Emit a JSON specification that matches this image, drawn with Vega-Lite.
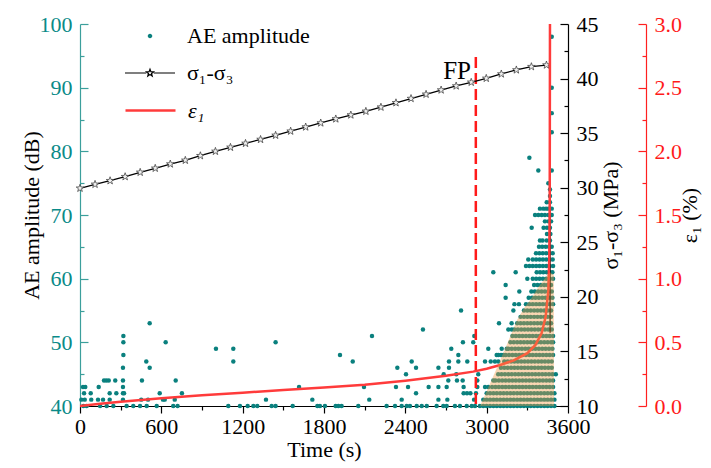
{
"$schema": "https://vega.github.io/schema/vega-lite/v6.json",
"width": 488, "height": 382,
"autosize": "none",
"padding": {"left": 80, "top": 24, "right": 143, "bottom": 62},
"config": {
 "font": "Liberation Serif",
 "view": {"stroke": null},
 "axis": {"labelFont": "Liberation Serif", "titleFont": "Liberation Serif", "labelFontSize": 22, "titleFontSize": 22, "titleFontWeight": "normal", "grid": false, "labelOverlap": false, "labelFlush": false, "domainWidth": 1.2, "tickWidth": 1.2},
 "legend": {"labelFont": "Liberation Serif", "labelFontSize": 22, "orient": "top-left", "padding": 0, "layout": {"top-left": {"direction": "vertical", "margin": 0}}}
},
"datasets": {
 "ae": [
{"t":25,"a":40},{"t":49,"a":40},{"t":148,"a":40},{"t":197,"a":40},{"t":246,"a":40},{"t":344,"a":40},{"t":393,"a":40},{"t":443,"a":40},{"t":492,"a":40},{"t":566,"a":40},{"t":688,"a":40},{"t":720,"a":40},{"t":1094,"a":40},{"t":1180,"a":40},{"t":1237,"a":40},{"t":1279,"a":40},{"t":1308,"a":40},{"t":1414,"a":40},{"t":1443,"a":40},{"t":1569,"a":40},{"t":1751,"a":40},{"t":1770,"a":40},{"t":1807,"a":40},{"t":1886,"a":40},{"t":1906,"a":40},{"t":1930,"a":40},{"t":2053,"a":40},{"t":2262,"a":40},{"t":2324,"a":40},{"t":2373,"a":40},{"t":2410,"a":40},{"t":2434,"a":40},{"t":2484,"a":40},{"t":2521,"a":40},{"t":2558,"a":40},{"t":2631,"a":40},{"t":2680,"a":40},{"t":2705,"a":40},{"t":2766,"a":40},{"t":2803,"a":40},{"t":2853,"a":40},{"t":2890,"a":40},{"t":2914,"a":40},
{"t":2950,"a":40},{"t":2975,"a":40},{"t":3000,"a":40},{"t":3025,"a":40},{"t":3050,"a":40},{"t":3075,"a":40},{"t":3100,"a":40},{"t":3125,"a":40},{"t":3150,"a":40},{"t":3175,"a":40},{"t":3200,"a":40},{"t":3225,"a":40},{"t":3250,"a":40},{"t":3275,"a":40},{"t":3300,"a":40},{"t":3325,"a":40},{"t":3350,"a":40},{"t":3375,"a":40},{"t":3400,"a":40},{"t":3425,"a":40},{"t":3450,"a":40},{"t":3475,"a":40},{"t":3500,"a":40},
{"t":10,"a":41},{"t":35,"a":41},{"t":83,"a":41},{"t":133,"a":41},{"t":170,"a":41},{"t":219,"a":41},{"t":317,"a":41},{"t":452,"a":41},{"t":502,"a":41},{"t":612,"a":41},{"t":625,"a":41},{"t":699,"a":41},{"t":1372,"a":41},{"t":1714,"a":41},{"t":2134,"a":41},{"t":2373,"a":41},{"t":2644,"a":41},{"t":2710,"a":41},{"t":2907,"a":41},
{"t":2975,"a":41},{"t":3000,"a":41},{"t":3025,"a":41},{"t":3050,"a":41},{"t":3075,"a":41},{"t":3100,"a":41},{"t":3125,"a":41},{"t":3150,"a":41},{"t":3175,"a":41},{"t":3200,"a":41},{"t":3225,"a":41},{"t":3250,"a":41},{"t":3275,"a":41},{"t":3300,"a":41},{"t":3325,"a":41},{"t":3350,"a":41},{"t":3375,"a":41},{"t":3400,"a":41},{"t":3425,"a":41},{"t":3450,"a":41},{"t":3475,"a":41},{"t":3500,"a":41},
{"t":30,"a":42},{"t":79,"a":42},{"t":219,"a":42},{"t":268,"a":42},{"t":317,"a":42},{"t":325,"a":42},{"t":588,"a":42},{"t":752,"a":42},{"t":2479,"a":42},{"t":2830,"a":42},{"t":2855,"a":42},{"t":2880,"a":42},{"t":2921,"a":42},
{"t":3000,"a":42},{"t":3025,"a":42},{"t":3050,"a":42},{"t":3075,"a":42},{"t":3100,"a":42},{"t":3125,"a":42},{"t":3150,"a":42},{"t":3175,"a":42},{"t":3200,"a":42},{"t":3225,"a":42},{"t":3250,"a":42},{"t":3275,"a":42},{"t":3300,"a":42},{"t":3325,"a":42},{"t":3350,"a":42},{"t":3375,"a":42},{"t":3400,"a":42},{"t":3425,"a":42},{"t":3450,"a":42},{"t":3475,"a":42},{"t":3500,"a":42},
{"t":22,"a":43},{"t":39,"a":43},{"t":138,"a":43},{"t":317,"a":43},{"t":1616,"a":43},{"t":2095,"a":43},{"t":2331,"a":43},{"t":2420,"a":43},{"t":2572,"a":43},{"t":2644,"a":43},{"t":2705,"a":43},{"t":2830,"a":43},{"t":2931,"a":43},{"t":2988,"a":43},{"t":3012,"a":43},
{"t":3040,"a":43},{"t":3065,"a":43},{"t":3090,"a":43},{"t":3115,"a":43},{"t":3140,"a":43},{"t":3165,"a":43},{"t":3190,"a":43},{"t":3215,"a":43},{"t":3240,"a":43},{"t":3265,"a":43},{"t":3290,"a":43},{"t":3315,"a":43},{"t":3340,"a":43},{"t":3365,"a":43},{"t":3390,"a":43},{"t":3415,"a":43},{"t":3440,"a":43},{"t":3465,"a":43},{"t":3490,"a":43},
{"t":177,"a":44},{"t":194,"a":44},{"t":212,"a":44},{"t":260,"a":44},{"t":317,"a":44},{"t":457,"a":44},{"t":706,"a":44},{"t":2717,"a":44},{"t":2781,"a":44},{"t":2823,"a":44},{"t":2931,"a":44},{"t":3049,"a":44},
{"t":3065,"a":44},{"t":3090,"a":44},{"t":3115,"a":44},{"t":3140,"a":44},{"t":3165,"a":44},{"t":3190,"a":44},{"t":3215,"a":44},{"t":3240,"a":44},{"t":3265,"a":44},{"t":3290,"a":44},{"t":3315,"a":44},{"t":3340,"a":44},{"t":3365,"a":44},{"t":3390,"a":44},{"t":3415,"a":44},{"t":3440,"a":44},{"t":3465,"a":44},{"t":3490,"a":44},
{"t":2405,"a":45},{"t":2683,"a":45},{"t":2776,"a":45},{"t":2938,"a":45},
{"t":3085,"a":45},{"t":3110,"a":45},{"t":3135,"a":45},{"t":3160,"a":45},{"t":3185,"a":45},{"t":3210,"a":45},{"t":3235,"a":45},{"t":3260,"a":45},{"t":3285,"a":45},{"t":3310,"a":45},{"t":3335,"a":45},{"t":3360,"a":45},{"t":3385,"a":45},{"t":3410,"a":45},{"t":3435,"a":45},{"t":3460,"a":45},{"t":3485,"a":45},{"t":3510,"a":45},
{"t":317,"a":46},{"t":514,"a":46},{"t":2341,"a":46},{"t":2479,"a":46},{"t":2644,"a":46},{"t":2722,"a":46},
{"t":3105,"a":46},{"t":3130,"a":46},{"t":3155,"a":46},{"t":3180,"a":46},{"t":3205,"a":46},{"t":3230,"a":46},{"t":3255,"a":46},{"t":3280,"a":46},{"t":3305,"a":46},{"t":3330,"a":46},{"t":3355,"a":46},{"t":3380,"a":46},{"t":3405,"a":46},{"t":3430,"a":46},{"t":3455,"a":46},{"t":3480,"a":46},
{"t":489,"a":47},{"t":1131,"a":47},{"t":2012,"a":47},{"t":2447,"a":47},{"t":2722,"a":47},{"t":2791,"a":47},{"t":2857,"a":47},{"t":2988,"a":47},{"t":3030,"a":47},{"t":3061,"a":47},{"t":3086,"a":47},
{"t":3130,"a":47},{"t":3155,"a":47},{"t":3180,"a":47},{"t":3205,"a":47},{"t":3230,"a":47},{"t":3255,"a":47},{"t":3280,"a":47},{"t":3305,"a":47},{"t":3330,"a":47},{"t":3355,"a":47},{"t":3380,"a":47},{"t":3405,"a":47},{"t":3430,"a":47},{"t":3455,"a":47},{"t":3480,"a":47},
{"t":320,"a":48},{"t":1918,"a":48},{"t":2791,"a":48},{"t":3074,"a":48},{"t":3086,"a":48},{"t":3106,"a":48},{"t":3123,"a":48},
{"t":3140,"a":48},{"t":3165,"a":48},{"t":3190,"a":48},{"t":3215,"a":48},{"t":3240,"a":48},{"t":3265,"a":48},{"t":3290,"a":48},{"t":3315,"a":48},{"t":3340,"a":48},{"t":3365,"a":48},{"t":3390,"a":48},{"t":3415,"a":48},{"t":3440,"a":48},{"t":3465,"a":48},{"t":3490,"a":48},
{"t":1003,"a":49},{"t":1131,"a":49},{"t":2739,"a":49},{"t":3012,"a":49},{"t":3111,"a":49},{"t":3148,"a":49},
{"t":3160,"a":49},{"t":3185,"a":49},{"t":3210,"a":49},{"t":3235,"a":49},{"t":3260,"a":49},{"t":3285,"a":49},{"t":3310,"a":49},{"t":3335,"a":49},{"t":3360,"a":49},{"t":3385,"a":49},{"t":3410,"a":49},{"t":3435,"a":49},{"t":3460,"a":49},{"t":3485,"a":49},
{"t":320,"a":50},{"t":632,"a":50},{"t":1443,"a":50},{"t":2825,"a":50},{"t":2901,"a":50},
{"t":3175,"a":50},{"t":3200,"a":50},{"t":3225,"a":50},{"t":3250,"a":50},{"t":3275,"a":50},{"t":3300,"a":50},{"t":3325,"a":50},{"t":3350,"a":50},{"t":3375,"a":50},{"t":3400,"a":50},{"t":3425,"a":50},{"t":3450,"a":50},{"t":3475,"a":50},{"t":3490,"a":50},
{"t":320,"a":51},{"t":2154,"a":51},{"t":2909,"a":51},
{"t":3190,"a":51},{"t":3215,"a":51},{"t":3240,"a":51},{"t":3265,"a":51},{"t":3290,"a":51},{"t":3315,"a":51},{"t":3340,"a":51},{"t":3365,"a":51},{"t":3390,"a":51},{"t":3415,"a":51},{"t":3440,"a":51},{"t":3465,"a":51},{"t":3490,"a":51},
{"t":2530,"a":52},{"t":3160,"a":52},{"t":3185,"a":52},
{"t":3205,"a":52},{"t":3230,"a":52},{"t":3255,"a":52},{"t":3280,"a":52},{"t":3305,"a":52},{"t":3330,"a":52},{"t":3355,"a":52},{"t":3380,"a":52},{"t":3405,"a":52},{"t":3430,"a":52},{"t":3455,"a":52},{"t":3480,"a":52},
{"t":514,"a":53},{"t":3091,"a":53},{"t":3184,"a":53},
{"t":3225,"a":53},{"t":3250,"a":53},{"t":3275,"a":53},{"t":3300,"a":53},{"t":3325,"a":53},{"t":3350,"a":53},{"t":3375,"a":53},{"t":3400,"a":53},{"t":3425,"a":53},{"t":3450,"a":53},{"t":3475,"a":53},
{"t":3250,"a":54},{"t":3275,"a":54},{"t":3300,"a":54},{"t":3325,"a":54},{"t":3350,"a":54},{"t":3375,"a":54},{"t":3400,"a":54},{"t":3425,"a":54},{"t":3450,"a":54},{"t":3475,"a":54},
{"t":2811,"a":55},{"t":3197,"a":55},
{"t":3275,"a":55},{"t":3300,"a":55},{"t":3325,"a":55},{"t":3350,"a":55},{"t":3375,"a":55},{"t":3400,"a":55},{"t":3425,"a":55},{"t":3450,"a":55},{"t":3475,"a":55},
{"t":3205,"a":56},{"t":3238,"a":56},
{"t":3290,"a":56},{"t":3315,"a":56},{"t":3340,"a":56},{"t":3365,"a":56},{"t":3390,"a":56},{"t":3415,"a":56},{"t":3440,"a":56},{"t":3465,"a":56},{"t":3490,"a":56},
{"t":3140,"a":57},
{"t":3310,"a":57},{"t":3335,"a":57},{"t":3360,"a":57},{"t":3385,"a":57},{"t":3410,"a":57},{"t":3435,"a":57},{"t":3460,"a":57},{"t":3485,"a":57},
{"t":3241,"a":58},
{"t":3330,"a":58},{"t":3355,"a":58},{"t":3380,"a":58},{"t":3405,"a":58},{"t":3430,"a":58},{"t":3455,"a":58},{"t":3480,"a":58},
{"t":3140,"a":59},
{"t":3350,"a":59},{"t":3375,"a":59},{"t":3400,"a":59},{"t":3425,"a":59},{"t":3450,"a":59},{"t":3475,"a":59},
{"t":3300,"a":60},
{"t":3340,"a":60},{"t":3365,"a":60},{"t":3390,"a":60},{"t":3415,"a":60},{"t":3440,"a":60},{"t":3465,"a":60},{"t":3490,"a":60},
{"t":3049,"a":61},{"t":3214,"a":61},{"t":3369,"a":61},{"t":3394,"a":61},{"t":3418,"a":61},{"t":3443,"a":61},{"t":3467,"a":61},{"t":3485,"a":61},
{"t":3290,"a":62},{"t":3315,"a":62},{"t":3340,"a":62},{"t":3365,"a":62},{"t":3390,"a":62},{"t":3415,"a":62},{"t":3440,"a":62},{"t":3465,"a":62},{"t":3490,"a":62},
{"t":3307,"a":63},{"t":3340,"a":63},{"t":3365,"a":63},{"t":3390,"a":63},{"t":3415,"a":63},{"t":3440,"a":63},{"t":3465,"a":63},{"t":3487,"a":63},
{"t":3364,"a":64},{"t":3389,"a":64},{"t":3414,"a":64},{"t":3439,"a":64},{"t":3464,"a":64},{"t":3487,"a":64},
{"t":3386,"a":65},{"t":3410,"a":65},{"t":3436,"a":65},{"t":3460,"a":65},{"t":3480,"a":65},
{"t":3393,"a":66},{"t":3413,"a":66},{"t":3443,"a":66},{"t":3467,"a":66},
{"t":3445,"a":67},{"t":3470,"a":67},
{"t":3332,"a":68},{"t":3420,"a":68},{"t":3445,"a":68},{"t":3467,"a":68},
{"t":3430,"a":69},{"t":3455,"a":69},{"t":3475,"a":69},
{"t":3357,"a":70},{"t":3381,"a":70},{"t":3406,"a":70},{"t":3430,"a":70},{"t":3455,"a":70},{"t":3480,"a":70},
{"t":3393,"a":71},{"t":3418,"a":71},{"t":3438,"a":71},{"t":3455,"a":71},{"t":3480,"a":71},
{"t":3443,"a":72},{"t":3467,"a":72},
{"t":3467,"a":73},{"t":3467,"a":74},{"t":3455,"a":75},
{"t":3381,"a":77},{"t":3480,"a":77},{"t":3315,"a":79},
{"t":3480,"a":83},{"t":3480,"a":86},{"t":3480,"a":90},{"t":3480,"a":98}
 ],
 "stress": [
{"t":0,"s":29.95},{"t":111,"s":30.31},{"t":222,"s":30.64},{"t":333,"s":31.01},{"t":444,"s":31.41},{"t":555,"s":31.78},{"t":666,"s":32.17},{"t":777,"s":32.51},{"t":888,"s":32.93},{"t":999,"s":33.33},{"t":1110,"s":33.70},{"t":1221,"s":34.06},{"t":1332,"s":34.42},{"t":1443,"s":34.80},{"t":1554,"s":35.18},{"t":1665,"s":35.56},{"t":1776,"s":35.93},{"t":1887,"s":36.30},{"t":1998,"s":36.66},{"t":2109,"s":37.00},{"t":2220,"s":37.38},{"t":2331,"s":37.78},{"t":2442,"s":38.17},{"t":2553,"s":38.56},{"t":2664,"s":38.95},{"t":2775,"s":39.32},{"t":2886,"s":39.66},{"t":2997,"s":40.02},{"t":3108,"s":40.42},{"t":3219,"s":40.79},{"t":3330,"s":41.09},{"t":3441,"s":41.24},{"t":3466,"s":41.30},{"t":3468,"s":16.7}
 ],
 "strain": [
{"t":0,"e":0},{"t":150,"e":0.018},{"t":300,"e":0.034},{"t":600,"e":0.06},{"t":900,"e":0.085},{"t":1200,"e":0.105},{"t":1500,"e":0.125},{"t":1800,"e":0.145},{"t":2100,"e":0.167},{"t":2400,"e":0.199},{"t":2700,"e":0.238},{"t":2900,"e":0.27},{"t":3000,"e":0.292},{"t":3100,"e":0.322},{"t":3200,"e":0.358},{"t":3300,"e":0.415},{"t":3360,"e":0.48},{"t":3405,"e":0.57},{"t":3435,"e":0.7},{"t":3455,"e":0.91},{"t":3462,"e":1.17},{"t":3465,"e":1.6},{"t":3466,"e":2.2},{"t":3467,"e":3.0}
 ],
 "orange": [
{"t":2951,"a":40},{"t":3000,"a":42.3},{"t":3084,"a":46.4},{"t":3150,"a":49.7},{"t":3224,"a":53.5},{"t":3280,"a":55.5},{"t":3320,"a":56.6},{"t":3380,"a":58.6},{"t":3438,"a":60.3},{"t":3467,"a":61.0},{"t":3495,"a":60.6},{"t":3497,"a":40}
 ]
},
"layer": [
 {
  "data": {"name": "ae"},
  "mark": {"type": "point", "filled": true, "size": 20, "opacity": 1},
  "encoding": {
   "x": {"field": "t", "type": "quantitative", "scale": {"domain": [0, 3600], "nice": false},
     "axis": {"values": [0,300,600,900,1200,1500,1800,2100,2400,2700,3000,3300,3600], "format": "d",
       "labelExpr": "datum.value % 600 === 0 ? datum.label : ''",
       "tickSize": {"condition": {"test": "datum.value % 600 === 0", "value": 7}, "value": 4},
       "title": "Time (s)", "domainColor": "black", "tickColor": "black", "labelColor": "black", "labelPadding": 3, "titlePadding": 2}},
   "y": {"field": "a", "type": "quantitative", "scale": {"domain": [40, 100], "nice": false, "zero": false},
     "axis": {"orient": "left", "values": [40,45,50,55,60,65,70,75,80,85,90,95,100],
       "labelExpr": "datum.value % 10 === 0 ? datum.label : ''",
       "tickSize": {"condition": {"test": "datum.value % 10 === 0", "value": -8}, "value": -4},
       "title": "AE amplitude (dB)", "titleColor": "black", "domainColor": "#3c9f9c", "tickColor": "#3c9f9c", "labelColor": "#0a8a88", "labelPadding": 16, "titlePadding": -4}},
   "color": {"datum": "AE amplitude", "scale": {"range": ["#0a807e"]},
     "legend": {"title": null, "symbolType": "M-0.09,0A0.09,0.09 0 1,1 0.09,0A0.09,0.09 0 1,1 -0.09,0Z", "symbolSize": 2500, "offset": -14, "symbolOffset": 58, "labelOffset": 11, "padding": 0}}
  }
 },
 {
  "data": {"values": [{"t": 2920, "lo": 40.3, "hi": 94.9}]},
  "mark": {"type": "rule", "color": "#ff1a1a", "strokeWidth": 2.5, "strokeDash": [11, 5]},
  "encoding": {
   "x": {"field": "t", "type": "quantitative"},
   "y": {"field": "lo", "type": "quantitative", "scale": {"domain": [40, 100], "nice": false, "zero": false}, "axis": null},
   "y2": {"field": "hi"}
  }
 },
 {
  "data": {"name": "stress"},
  "mark": {"type": "line", "strokeWidth": 1.3},
  "encoding": {
   "x": {"field": "t", "type": "quantitative"},
   "y": {"field": "s", "type": "quantitative", "scale": {"domain": [10, 45], "nice": false, "zero": false},
     "axis": {"orient": "right", "values": [10,12.5,15,17.5,20,22.5,25,27.5,30,32.5,35,37.5,40,42.5,45],
       "labelExpr": "datum.value % 5 === 0 ? datum.label : ''",
       "tickSize": {"condition": {"test": "datum.value % 5 === 0", "value": -8}, "value": -4},
       "title": "σ₁-σ₃ (MPa)", "titleAngle": 270, "titleBaseline": "top", "titleColor": "black", "domainColor": "black", "tickColor": "black", "labelColor": "black", "labelPadding": 16, "titlePadding": 2}},
   "color": {"datum": "σ₁-σ₃", "scale": {"range": ["black"]},
     "legend": {"title": null, "symbolType": "M-1,0L-0.15,0M0.15,0L1,0M0,-0.15L0.036,-0.052L0.143,-0.046L0.061,0.02L0.088,0.121L0,0.06L-0.088,0.121L-0.061,0.02L-0.143,-0.046L-0.036,-0.052Z", "symbolSize": 2500, "symbolStrokeWidth": 1.2, "offset": -14, "symbolOffset": 58, "labelOffset": 11, "padding": 0}}
  }
 },
 {
  "data": {"name": "stress"},
  "transform": [{"filter": "datum.t < 3450"}],
  "mark": {"type": "point", "shape": "M0,-1L0.235,-0.324L0.951,-0.309L0.38,0.124L0.588,0.809L0,0.4L-0.588,0.809L-0.38,0.124L-0.951,-0.309L-0.235,-0.324Z", "size": 64, "filled": true, "fill": "#f0f0f0", "stroke": "#333333", "strokeWidth": 0.7, "opacity": 1},
  "encoding": {
   "x": {"field": "t", "type": "quantitative"},
   "y": {"field": "s", "type": "quantitative", "scale": {"domain": [10, 45], "nice": false, "zero": false}, "axis": null}
  }
 },
 {
  "data": {"name": "strain"},
  "mark": {"type": "line", "strokeWidth": 2.5},
  "encoding": {
   "x": {"field": "t", "type": "quantitative"},
   "y": {"field": "e", "type": "quantitative", "scale": {"domain": [0, 3], "nice": false, "zero": false},
     "axis": {"orient": "right", "offset": 78, "values": [0,0.25,0.5,0.75,1,1.25,1.5,1.75,2,2.25,2.5,2.75,3], "format": ".1f",
       "labelExpr": "(datum.value * 2) % 1 === 0 ? datum.label : ''",
       "tickSize": {"condition": {"test": "(datum.value * 2) % 1 === 0", "value": -8}, "value": -4},
       "title": "ε₁ (%)", "titleAngle": 270, "titleBaseline": "top", "titleColor": "black", "domainColor": "#ff2020", "tickColor": "#ff2020", "labelColor": "#ff1a1a", "labelPadding": 16, "titlePadding": -2}},
   "color": {"datum": "ε₁", "scale": {"range": ["#ff3b3b"]},
     "legend": {"title": null, "symbolType": "M-1,0L1,0", "symbolSize": 2500, "symbolStrokeWidth": 2.5, "labelFontStyle": "italic", "offset": -14, "symbolOffset": 58, "labelOffset": 11, "padding": 0}}
  }
 },
 {
  "data": {"name": "orange"},
  "mark": {"type": "area", "color": "#f29840", "opacity": 0.4},
  "encoding": {
   "x": {"field": "t", "type": "quantitative"},
   "y": {"field": "a", "type": "quantitative", "scale": {"domain": [40, 100], "nice": false, "zero": false}, "axis": null},
   "y2": {"datum": 40}
  }
 },
 {
  "data": {"values": [{"t": 2884, "a": 91.3, "label": "FP"}]},
  "mark": {"type": "text", "align": "right", "baseline": "alphabetic", "fontSize": 25, "font": "Liberation Serif", "color": "black"},
  "encoding": {
   "x": {"field": "t", "type": "quantitative"},
   "y": {"field": "a", "type": "quantitative", "scale": {"domain": [40, 100], "nice": false, "zero": false}, "axis": null},
   "text": {"field": "label"}
  }
 }
],
"resolve": {"scale": {"y": "independent", "color": "independent"}}
}
